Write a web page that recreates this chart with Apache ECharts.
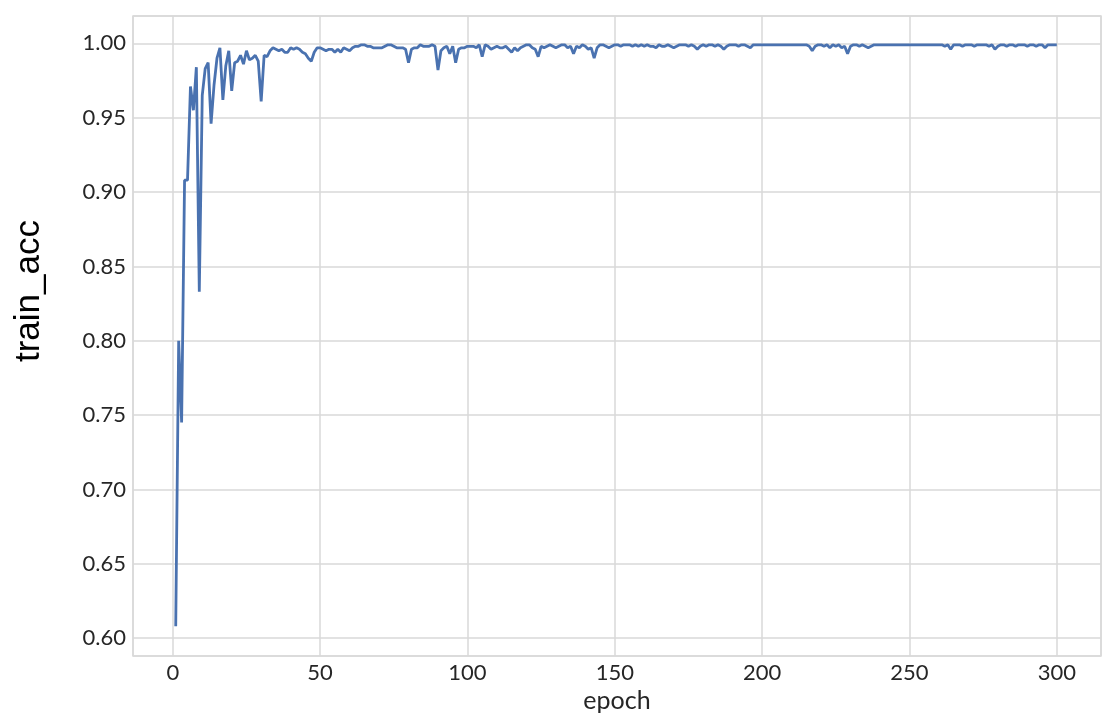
<!DOCTYPE html>
<html>
<head>
<meta charset="utf-8">
<script src="https://cdn.jsdelivr.net/npm/echarts@6/dist/echarts.min.js"></script>
<style>
  html, body { margin: 0; padding: 0; background: #fff; }
  #chart { width: 1112px; height: 720px; }
</style>
</head>
<body>
<div id="chart"></div>
<script>
// train accuracy per epoch, epoch 1 .. 300
const trainAcc = [
  0.608, 0.800, 0.745, 0.908, 0.908, 0.971, 0.955, 0.984, 0.833, 0.965,
  0.983, 0.987, 0.946, 0.972, 0.990, 0.997, 0.962, 0.985, 0.995, 0.968,
  0.987, 0.988, 0.992, 0.986, 0.995, 0.989, 0.990, 0.992, 0.988, 0.961,
  0.992, 0.991, 0.995, 0.997, 0.996, 0.995, 0.996, 0.994, 0.994, 0.997,
  0.996, 0.997, 0.996, 0.994, 0.993, 0.990, 0.988, 0.994, 0.997, 0.997,
  0.996, 0.995, 0.996, 0.996, 0.994, 0.996, 0.994, 0.997, 0.996, 0.995,
  0.997, 0.998, 0.998, 0.999, 0.999, 0.998, 0.998, 0.997, 0.997, 0.997,
  0.997, 0.998, 0.999, 0.999, 0.998, 0.997, 0.997, 0.997, 0.996, 0.987,
  0.996, 0.997, 0.997, 0.999, 0.998, 0.998, 0.998, 0.999, 0.998, 0.982,
  0.995, 0.997, 0.998, 0.993, 0.998, 0.987, 0.996, 0.997, 0.997, 0.998,
  0.998, 0.998, 0.997, 0.999, 0.991, 0.999, 0.998, 0.996, 0.997, 0.998,
  0.997, 0.997, 0.998, 0.996, 0.994, 0.997, 0.995, 0.997, 0.998, 0.999,
  0.999, 0.997, 0.996, 0.991, 0.998, 0.997, 0.998, 0.999, 0.998, 0.997,
  0.998, 0.999, 0.999, 0.997, 0.998, 0.993, 0.998, 0.997, 0.999, 0.998,
  0.996, 0.997, 0.990, 0.997, 0.999, 0.999, 0.998, 0.997, 0.998, 0.999,
  0.999, 0.998, 0.999, 0.999, 0.999, 0.998, 0.999, 0.998, 0.999, 0.998,
  0.999, 0.998, 0.998, 0.997, 0.999, 0.998, 0.998, 0.999, 0.998, 0.997,
  0.998, 0.999, 0.999, 0.999, 0.998, 0.999, 0.998, 0.996, 0.998, 0.999,
  0.998, 0.999, 0.999, 0.998, 0.999, 0.998, 0.996, 0.998, 0.999, 0.999,
  0.999, 0.998, 0.999, 0.999, 0.998, 0.997, 0.999, 0.999, 0.999, 0.999,
  0.999, 0.999, 0.999, 0.999, 0.999, 0.999, 0.999, 0.999, 0.999, 0.999,
  0.999, 0.999, 0.999, 0.999, 0.999, 0.998, 0.995, 0.998, 0.999, 0.999,
  0.998, 0.999, 0.997, 0.999, 0.998, 0.999, 0.997, 0.998, 0.993, 0.998,
  0.999, 0.999, 0.998, 0.999, 0.998, 0.997, 0.998, 0.999, 0.999, 0.999,
  0.999, 0.999, 0.999, 0.999, 0.999, 0.999, 0.999, 0.999, 0.999, 0.999,
  0.999, 0.999, 0.999, 0.999, 0.999, 0.999, 0.999, 0.999, 0.999, 0.999,
  0.999, 0.998, 0.999, 0.996, 0.999, 0.999, 0.999, 0.998, 0.999, 0.999,
  0.999, 0.998, 0.999, 0.999, 0.999, 0.999, 0.998, 0.999, 0.996, 0.998,
  0.999, 0.999, 0.998, 0.999, 0.999, 0.998, 0.999, 0.999, 0.999, 0.998,
  0.999, 0.999, 0.998, 0.999, 0.999, 0.997, 0.999, 0.999, 0.999, 0.999
];
const firstEpoch = 1;

const xRange = [-13.5, 315];
const yRange = [0.588, 1.0184];

const gridColor = '#d9d9d9';
const tickFont = 'Lato, "Noto Sans", sans-serif';

var myChart = echarts.init(document.getElementById('chart'));

var option = {
  animation: false,
  backgroundColor: '#fff',
  grid: {
    left: 133,
    right: 11,
    top: 16,
    bottom: 64,
    show: true,
    borderColor: gridColor,
    borderWidth: 1.5,
    backgroundColor: 'transparent'
  },
  xAxis: {
    type: 'value',
    min: xRange[0],
    max: xRange[1],
    splitNumber: 7,
    name: 'epoch',
    nameLocation: 'middle',
    nameGap: 31,
    nameTextStyle: { fontFamily: tickFont, fontSize: 25, color: '#262626' },
    axisLine: { show: false },
    axisTick: { show: false },
    axisLabel: {
      showMinLabel: false,
      showMaxLabel: false,
      margin: 6,
      fontFamily: tickFont,
      fontSize: 22,
      color: '#262626'
    },
    splitLine: { show: true, lineStyle: { color: gridColor, width: 1.5 } }
  },
  yAxis: {
    type: 'value',
    min: yRange[0],
    max: yRange[1],
    splitNumber: 9,
    name: 'train_acc',
    nameLocation: 'middle',
    nameGap: 86,
    nameTextStyle: {
      fontFamily: '"Liberation Sans", Arial, sans-serif',
      fontSize: 35,
      color: '#000',
      padding: [0, 0, 0, 90]
    },
    axisLine: { show: false },
    axisTick: { show: false },
    axisLabel: {
      showMinLabel: false,
      showMaxLabel: false,
      margin: 7,
      fontFamily: tickFont,
      fontSize: 22,
      color: '#262626',
      formatter: v => v.toFixed(2)
    },
    splitLine: { show: true, lineStyle: { color: gridColor, width: 1.5 } }
  },
  series: [{
    type: 'line',
    data: trainAcc.map((v, i) => [firstEpoch + i, v]),
    showSymbol: false,
    lineStyle: { color: '#4a72b0', width: 2.8 },
    itemStyle: { color: '#4a72b0' }
  }]
};

myChart.setOption(option);
window.onresize = () => { myChart.resize() }
</script>
</body>
</html>
